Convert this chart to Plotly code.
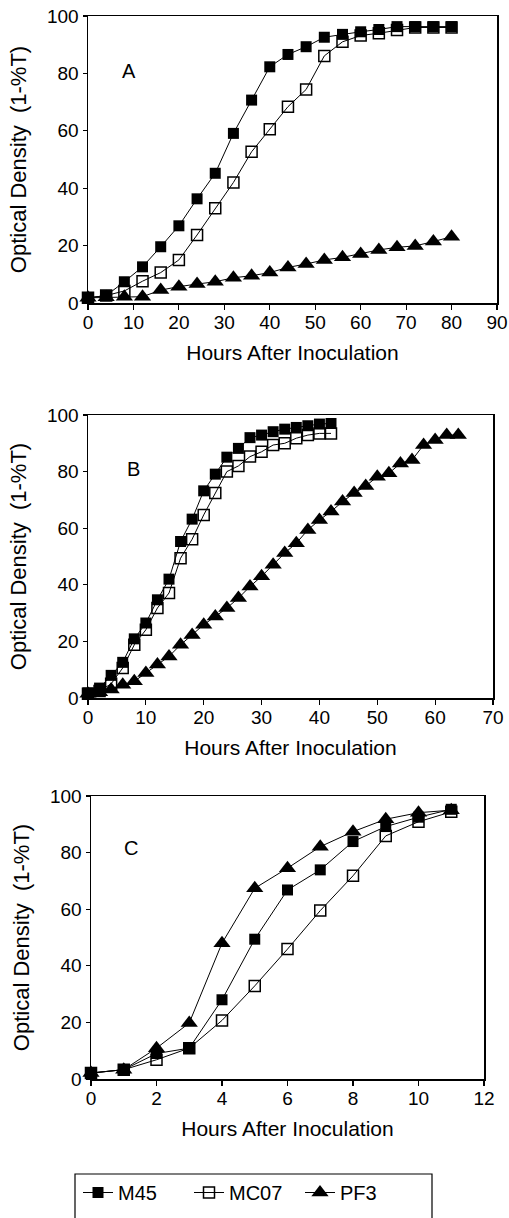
import plotly.graph_objects as go

# ---------------- data ----------------
# Panel A
a_hours = [0, 4, 8, 12, 16, 20, 24, 28, 32, 36, 40, 44, 48, 52, 56, 60, 64, 68, 72, 76, 80]
a_m45 = [1.8, 2.6, 7.4, 12.6, 19.6, 26.9, 36.3, 45.2, 59.1, 70.7, 82.3, 86.6, 89.3, 92.6, 93.6, 94.5, 95.3, 96.3, 96.3, 96.3, 96.3]
a_mc07 = [1.8, 2.6, 4.2, 7.6, 10.6, 15.0, 23.7, 33.0, 42.0, 52.7, 60.5, 68.4, 74.4, 86.1, 91.0, 93.2, 94.0, 95.1, 96.0, 96.0, 96.0]
a_pf3 = [1.8, 2.0, 2.2, 2.2, 4.5, 5.7, 6.6, 7.4, 8.8, 9.5, 10.6, 12.4, 13.6, 15.0, 15.9, 17.1, 18.5, 19.4, 19.9, 21.4, 23.1]

# Panel B
b_hours = [0, 2, 4, 6, 8, 10, 12, 14, 16, 18, 20, 22, 24, 26, 28, 30, 32, 34, 36, 38, 40, 42]
b_m45 = [1.8, 3.5, 8.0, 12.6, 20.9, 26.5, 34.7, 42.0, 55.3, 63.2, 73.2, 79.1, 85.1, 88.2, 92.0, 92.9, 94.1, 95.0, 95.6, 96.2, 96.8, 97.0]
b_mc07 = [1.5, 2.5, 5.0, 10.6, 18.8, 24.1, 31.8, 37.1, 49.4, 56.1, 64.7, 72.4, 80.0, 82.0, 85.3, 87.0, 89.4, 90.0, 91.8, 92.9, 93.5, 93.5]
b_pf3_hours = [0, 2, 4, 6, 8, 10, 12, 14, 16, 18, 20, 22, 24, 26, 28, 30, 32,
               34, 36, 38, 40, 42, 44, 46, 48, 50, 52, 54, 56, 58, 60, 62, 64]
b_pf3 = [1.5, 2.0, 3.0, 4.7, 5.9, 8.8, 11.8, 14.7, 18.8, 22.3, 25.9, 28.8, 31.8, 35.3, 39.4, 43.0, 47.1,
         51.2, 54.7, 59.4, 62.9, 65.9, 69.4, 72.4, 74.9, 78.2, 79.4, 82.9, 84.1, 89.4, 91.2, 92.9, 92.9]

# Panel C
c_hours = [0, 1, 2, 3, 4, 5, 6, 7, 8, 9, 10, 11]
c_m45 = [2.1, 3.3, 9.0, 10.9, 28.0, 49.4, 66.8, 73.9, 83.9, 89.2, 92.5, 95.3]
c_mc07 = [2.1, 3.3, 6.8, 10.9, 20.7, 32.9, 45.9, 59.5, 71.8, 85.9, 90.9, 94.4]
c_pf3 = [2.1, 3.3, 10.9, 19.8, 48.0, 67.4, 74.5, 82.1, 87.4, 91.8, 94.1, 95.0]

panel_letters = ["A", "B", "C"]
x_ranges = [[0, 90], [0, 70], [0, 12]]
x_dticks = [10, 10, 2]
y_ticks = [0, 20, 40, 60, 80, 100]
series_names = ["M45", "MC07", "PF3"]
x_title = "Hours After Inoculation"
y_title = "Optical Density  (1-%T)"

# ---------------- layout geometry (pixels in the 509x1218 page) ----------------
W, H = 509, 1218
# (left, right, top, bottom) of each plot area in page pixels
boxes = [(88, 497, 16, 303), (88, 493, 415, 698), (91, 484, 796, 1079)]
letter_pos = [(0.078, 0.81), (0.091, 0.81), (0.079, 0.816)]

FONT = "Liberation Sans, Arial, Helvetica, sans-serif"

def fx(px):
    return px / W

def fy(py):
    return 1 - py / H

panels = [
    (a_hours, a_m45, a_hours, a_mc07, a_hours, a_pf3),
    (b_hours, b_m45, b_hours, b_mc07, b_pf3_hours, b_pf3),
    (c_hours, c_m45, c_hours, c_mc07, c_hours, c_pf3),
]

marker_styles = [
    dict(symbol="square", size=11, color="black"),
    dict(symbol="square-open", size=11, color="black", line=dict(width=1.5, color="black")),
    dict(symbol="triangle-up", size=15, color="black"),
]

fig = go.Figure()
for i, (x1, y1, x2, y2, x3, y3) in enumerate(panels):
    xa = "x" if i == 0 else f"x{i+1}"
    ya = "y" if i == 0 else f"y{i+1}"
    for j, (xs, ys) in enumerate([(x1, y1), (x2, y2), (x3, y3)]):
        fig.add_trace(go.Scatter(
            x=xs, y=ys, mode="lines+markers", name=series_names[j],
            line=dict(color="black", width=1),
            marker=marker_styles[j],
            xaxis=xa, yaxis=ya, cliponaxis=False,
            showlegend=(i == 0),
        ))

layout = dict(
    width=W, height=H,
    margin=dict(l=0, r=0, t=0, b=0),
    paper_bgcolor="white", plot_bgcolor="white",
    font=dict(family=FONT, size=19, color="black"),
    showlegend=True,
    legend=dict(orientation="h", x=fx(78), y=fy(1173), xanchor="left", yanchor="top",
                font=dict(size=20), bgcolor="rgba(0,0,0,0)", borderwidth=0,
                itemwidth=30, entrywidth=66, entrywidthmode="pixels"),
    shapes=[dict(type="rect", xref="paper", yref="paper",
                 x0=fx(75), x1=fx(432), y0=fy(1174), y1=fy(1260),
                 line=dict(color="black", width=1.2))],
    annotations=[],
)

for i, (l, r, t, b) in enumerate(boxes):
    xk = "xaxis" if i == 0 else f"xaxis{i+1}"
    yk = "yaxis" if i == 0 else f"yaxis{i+1}"
    xa = "x" if i == 0 else f"x{i+1}"
    ya = "y" if i == 0 else f"y{i+1}"
    layout[xk] = dict(
        domain=[fx(l), fx(r)], anchor=ya, range=x_ranges[i], dtick=x_dticks[i], tick0=0,
        showgrid=False, zeroline=False, showline=True, linecolor="black", linewidth=1.5,
        mirror=True, ticks="outside", ticklen=5, tickwidth=1.2, tickcolor="black",
        tickfont=dict(size=19), ticklabeloverflow="allow", ticklabelstandoff=-3,
        title=dict(text=x_title, font=dict(size=21), standoff=13),
        automargin=False,
    )
    layout[yk] = dict(
        domain=[fy(b), fy(t)], anchor=xa, range=[0, 100], tickvals=y_ticks,
        showgrid=False, zeroline=False, showline=True, linecolor="black", linewidth=1.5,
        mirror=True, ticks="outside", ticklen=4, tickwidth=1.2, tickcolor="black",
        tickfont=dict(size=19), ticklabeloverflow="allow",
        title=dict(text=y_title, font=dict(size=22), standoff=14),
        automargin=False,
    )
    layout["annotations"].append(dict(
        text=panel_letters[i], xref=xa + " domain", yref=ya + " domain",
        x=letter_pos[i][0], y=letter_pos[i][1], xanchor="left", yanchor="middle",
        showarrow=False, font=dict(size=20),
    ))

fig.update_layout(**layout)
# remove the default 8px body margin so the 509x1218 figure fills the window exactly
fig.write_html("out.html",
               config={"displayModeBar": False, "staticPlot": True},
               post_script="document.body.style.margin='0';document.body.style.overflow='hidden';")
